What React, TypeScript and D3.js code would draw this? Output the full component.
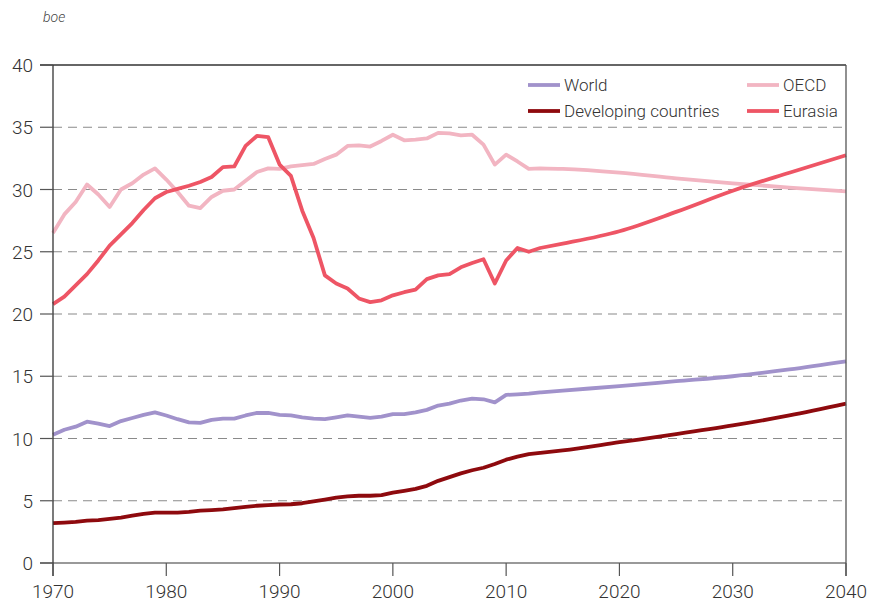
import React from "react";
import * as d3 from "d3";

const years = [1970,1971,1972,1973,1974,1975,1976,1977,1978,1979,1980,1981,1982,1983,1984,1985,1986,1987,1988,1989,1990,1991,1992,1993,1994,1995,1996,1997,1998,1999,2000,2001,2002,2003,2004,2005,2006,2007,2008,2009,2010,2011,2012,2013,2015,2020,2025,2030,2035,2040];

const world = [10.3,10.7,10.95,11.35,11.2,11.0,11.4,11.65,11.9,12.1,11.85,11.55,11.3,11.25,11.5,11.6,11.6,11.85,12.05,12.05,11.9,11.85,11.7,11.6,11.55,11.7,11.85,11.75,11.65,11.75,11.95,11.95,12.1,12.3,12.65,12.8,13.05,13.2,13.15,12.9,13.5,13.55,13.6,13.7,13.85,14.2,14.6,15.0,15.55,16.2];

const developing = [3.2,3.25,3.3,3.4,3.45,3.55,3.65,3.8,3.95,4.05,4.05,4.05,4.1,4.2,4.25,4.3,4.4,4.5,4.6,4.65,4.7,4.72,4.8,4.95,5.1,5.25,5.35,5.4,5.4,5.45,5.65,5.8,5.95,6.2,6.6,6.9,7.2,7.45,7.65,7.95,8.3,8.55,8.75,8.85,9.05,9.7,10.35,11.05,11.85,12.8];

const oecd = [26.5,28.0,29.0,30.4,29.6,28.6,30.0,30.5,31.2,31.7,30.8,29.8,28.7,28.5,29.4,29.9,30.0,30.7,31.4,31.7,31.65,31.85,31.95,32.05,32.45,32.8,33.5,33.55,33.45,33.9,34.4,33.95,34.0,34.1,34.55,34.5,34.35,34.4,33.6,32.0,32.8,32.25,31.65,31.7,31.65,31.35,30.9,30.5,30.15,29.85];

const eurasia = [20.8,21.4,22.3,23.2,24.3,25.5,26.4,27.3,28.35,29.3,29.8,30.05,30.3,30.6,31.0,31.8,31.85,33.5,34.3,34.2,32.0,31.1,28.3,26.1,23.1,22.45,22.05,21.25,20.95,21.1,21.5,21.75,21.95,22.8,23.1,23.2,23.75,24.1,24.4,22.45,24.3,25.3,25.0,25.3,25.65,26.65,28.2,29.9,31.35,32.75];

const lastHistoricalYear = 2013;

const yTicks = [0,5,10,15,20,25,30,35,40];
const xTicks = [1970,1980,1990,2000,2010,2020,2030,2040];

const seriesList = [
  { name: "World", values: world, color: "#a192cb" },
  { name: "Developing countries", values: developing, color: "#8e0a0e" },
  { name: "OECD", values: oecd, color: "#f2b5c2" },
  { name: "Eurasia", values: eurasia, color: "#ee5565" },
];

const FONT = "Roboto, 'Open Sans', sans-serif";

export default function App() {
  const W = 873, H = 604;
  const left = 53, right = 846, top = 65, bottom = 563;
  const x = d3.scaleLinear().domain([1970, 2040]).range([left, right]);
  const y = d3.scaleLinear().domain([0, 40]).range([bottom, top]);
  const splitIdx = years.indexOf(lastHistoricalYear);

  const pathFor = (vals: number[]) => {
    const pts = vals.map((v, i) => [x(years[i]), y(v)] as [number, number]);
    const hist = d3.line().curve(d3.curveLinear)(pts.slice(0, splitIdx + 1)) || "";
    const proj = d3.line().curve(d3.curveMonotoneX)(pts.slice(splitIdx)) || "";
    return hist + proj.replace(/^M/, "L");
  };

  const drawOrder = [2, 3, 0, 1];
  const legendPos = [
    { lx: 528, ly: 85 },
    { lx: 528, ly: 111 },
    { lx: 747, ly: 85 },
    { lx: 747, ly: 111 },
  ];

  return (
    <svg width={W} height={H} style={{ position: "absolute", left: 0, top: 0, background: "#fff" }}>
      <text x={43} y={22} fontFamily={FONT} fontStyle="italic" fontSize={14} fill="#444" fontWeight={300}>boe</text>
      {yTicks.filter((t) => t > 0 && t < 40).map((t) => (
        <line key={"g" + t} x1={left} x2={right} y1={y(t)} y2={y(t)} stroke="#8a8a8a" strokeWidth={1.2} strokeDasharray="9,6" />
      ))}
      {drawOrder.map((i) => (
        <path key={seriesList[i].name} d={pathFor(seriesList[i].values)} fill="none" stroke={seriesList[i].color} strokeWidth={3.8} strokeLinejoin="round" />
      ))}
      <line x1={40} x2={right} y1={top} y2={top} stroke="#333" strokeWidth={1.3} />
      <line x1={40} x2={right} y1={bottom} y2={bottom} stroke="#777" strokeWidth={1.6} />
      <line x1={left} x2={left} y1={top} y2={576} stroke="#333" strokeWidth={1.3} />
      <line x1={right} x2={right} y1={top} y2={576} stroke="#555" strokeWidth={1.3} />
      {yTicks.map((t) => (
        <g key={"y" + t}>
          <line x1={40} x2={left} y1={y(t)} y2={y(t)} stroke="#555" strokeWidth={1.2} />
          <text x={33} y={y(t) + 7} textAnchor="end" fontFamily={FONT} fontSize={19} fill="#333" fontWeight={300}>{t}</text>
        </g>
      ))}
      {xTicks.map((t) => (
        <g key={"x" + t}>
          <line x1={x(t)} x2={x(t)} y1={bottom} y2={576} stroke="#555" strokeWidth={1.2} />
          <text x={x(t)} y={598} textAnchor="middle" fontFamily={FONT} fontSize={19} fill="#333" fontWeight={300}>{t}</text>
        </g>
      ))}
      {seriesList.map((s, i) => (
        <g key={"l" + s.name}>
          <line x1={legendPos[i].lx} x2={legendPos[i].lx + 32} y1={legendPos[i].ly} y2={legendPos[i].ly} stroke={s.color} strokeWidth={3.8} />
          <text x={legendPos[i].lx + 36} y={legendPos[i].ly + 6} fontFamily={FONT} fontSize={17} fill="#333" fontWeight={300}>{s.name}</text>
        </g>
      ))}
    </svg>
  );
}
